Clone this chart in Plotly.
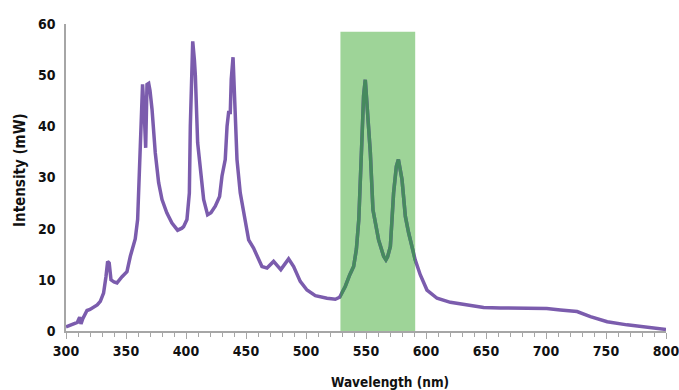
import plotly.graph_objects as go

# Spectrum
wavelength = [300, 303, 306, 309.5, 311.4, 312.5, 314, 317.5, 320, 323, 326, 328.6, 331.3, 333.3,
              334.7, 336, 337.5, 340, 342.5, 346.7, 350.8, 353.6, 357.7, 359.7, 360.8, 362.5,
              363.8, 365.3, 366.4, 367.5, 368.9, 370, 371.7, 374.4, 377.2, 380, 384, 388.3, 393,
              396.6, 398, 400.8, 402.8, 403.6, 404.4, 405.6, 407.0, 407.8, 409.7, 411.9, 414.7,
              418, 420.8, 424.4, 428, 430, 432.7, 434.2, 435.5, 436.9, 437.7, 439.2, 441, 442.5,
              445.2, 448.6, 452.2, 456.3, 459.2, 463.3, 467.5, 473, 479, 485.5, 489.7, 495.2,
              500.8, 507.8, 517.5, 524.4, 528, 532.7, 536.5, 539.7, 542, 544, 546.7, 548, 549.4,
              551, 553.6, 555.8, 560.5, 564.7, 566.6, 568, 570.3, 573, 575.3, 577, 580, 582.8,
              585.5, 591, 595.2, 600.8, 609.2, 620.3, 631.3, 648, 662, 700.6, 712, 725.9, 737,
              751, 767.5, 784, 800]
intensity = [0.8, 1.1, 1.4, 1.7, 2.7, 1.4, 2.4, 4.0, 4.2, 4.6, 5.1, 5.8, 7.4, 10.6,
             13.6, 13.3, 10.0, 9.6, 9.4, 10.6, 11.6, 14.6, 18.0, 21.8, 30.0, 43.3,
             48.2, 42.0, 35.8, 48.2, 48.4, 47.0, 43.3, 34.8, 29.0, 25.7, 23.1, 21.1, 19.7,
             20.1, 20.4, 21.8, 27.0, 40.0, 49.9, 56.6, 53.0, 49.9, 36.8, 31.6, 25.7,
             22.7, 23.1, 24.4, 26.3, 30.3, 33.5, 40.0, 42.7, 42.7, 49.2, 53.5, 43.3, 33.5,
             27.0, 22.4, 17.8, 16.2, 14.6, 12.6, 12.3, 13.6, 12.0, 14.1, 12.6, 9.7,
             8.0, 6.9, 6.4, 6.2, 6.6, 8.7, 11.0, 12.6, 16.0, 21.8, 38.0, 46.0, 49.1,
             44.0, 34.9, 23.7, 17.8, 14.6, 13.9, 14.5, 16.5, 27.0, 32.2, 33.5, 29.6, 22.4,
             19.2, 13.9, 11.0, 8.0, 6.4, 5.6, 5.2, 4.6, 4.5, 4.4, 4.1, 3.8, 2.8,
             1.8, 1.2, 0.7, 0.3]

x_ticks = [300, 350, 400, 450, 500, 550, 600, 650, 700, 750, 800]
y_ticks = [0, 10, 20, 30, 40, 50, 60]
band = [528.7, 591.0]   # highlighted green band (nm)
band_top = 58.5

FONT = "Liberation Sans Narrow, DejaVu Sans Condensed, Arial Narrow, sans-serif"
PURPLE = "#7b5cad"
DARKGREEN = "#468a5e"
AXIS = "#a6a6a6"

fig = go.Figure()
fig.add_trace(go.Scatter(x=wavelength, y=intensity, mode="lines",
                         line=dict(color=PURPLE, width=3.5), xaxis="x", yaxis="y",
                         showlegend=False, hoverinfo="skip"))
# same spectrum, clipped to the band by a narrow overlay axis
fig.add_trace(go.Scatter(x=wavelength, y=intensity, mode="lines",
                         line=dict(color=DARKGREEN, width=3.5), xaxis="x2", yaxis="y",
                         showlegend=False, hoverinfo="skip"))

fig.add_shape(type="rect", xref="x", yref="y", x0=band[0], x1=band[1], y0=0, y1=band_top,
              fillcolor="#9ed498", line=dict(width=0), layer="below")

d0 = (band[0] - 300) / 500
d1 = (band[1] - 300) / 500

fig.update_layout(
    width=679, height=390,
    margin=dict(l=66, r=13, t=24, b=59, autoexpand=False),
    paper_bgcolor="white", plot_bgcolor="rgba(0,0,0,0)",
    font=dict(family=FONT, size=14, color="#111111", weight="bold"),
    xaxis=dict(range=[300, 800], domain=[0, 1], tickvals=x_ticks, ticks="outside", ticklen=6,
               tickwidth=1, tickcolor=AXIS, showline=True, linecolor=AXIS, linewidth=1.5,
               showgrid=False, zeroline=False, ticklabeloverflow="allow", automargin=False,
               minor=dict(dtick=10, ticks="outside", ticklen=4, tickcolor=AXIS, showgrid=False),
               tickfont=dict(family=FONT, size=14, weight="bold")),
    xaxis2=dict(range=band, domain=[d0, d1], anchor="y", visible=False, automargin=False,
                showgrid=False, zeroline=False),
    yaxis=dict(range=[0, 60], tickvals=y_ticks, ticks="", showline=True, linecolor=AXIS,
               linewidth=1.5, showgrid=False, zeroline=False, ticklabelstandoff=6,
               automargin=False, tickfont=dict(family=FONT, size=14, weight="bold")),
    annotations=[
        dict(text="Wavelength (nm)", xref="paper", yref="paper", x=(390 - 66) / 600, y=-0.165,
             showarrow=False, xanchor="center", yanchor="middle",
             font=dict(family=FONT, size=13.5, weight="bold")),
        dict(text="Intensity (mW)", xref="paper", yref="paper", x=(20 - 66) / 600,
             y=(331 - 170) / 307, showarrow=False, textangle=-90, xanchor="center",
             yanchor="middle", font=dict(family=FONT, size=15, weight="bold")),
    ],
)

fig.write_html("out.html", config={"displayModeBar": False},
               post_script="document.body.style.margin='0';")
